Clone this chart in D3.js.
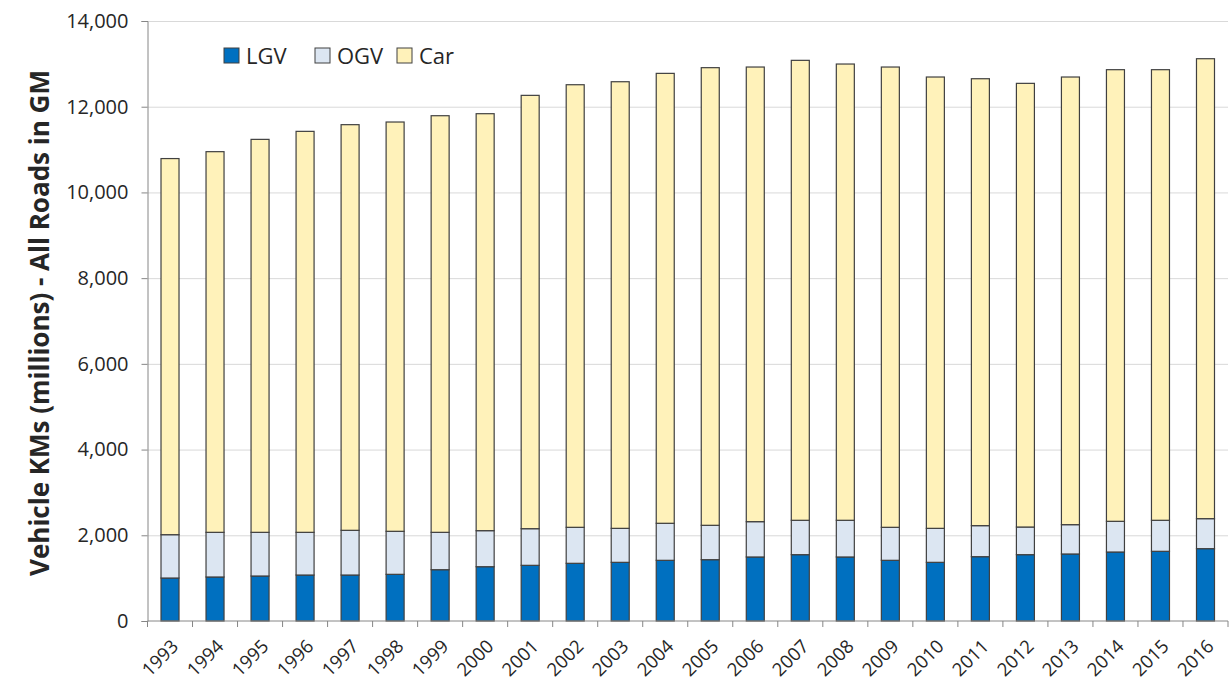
<html>
<script src='https://d3js.org/d3.v7.min.js'></script>
<style>
  body { margin: 0; background: #fff; }
  text { font-family: 'Open Sans', sans-serif; fill: #262626; }
</style>
<body onload='init()'>
<svg width=1230 height=697></svg>
<script>
// vehicle km (millions)
var years = ["1993","1994","1995","1996","1997","1998","1999","2000","2001","2002","2003","2004",
             "2005","2006","2007","2008","2009","2010","2011","2012","2013","2014","2015","2016"];
var lgv = [1003,1027,1050,1073,1073,1089,1197,1267,1299,1346,1369,1416,
           1431,1494,1548,1494,1416,1369,1501,1548,1564,1610,1626,1688];
var ogv = [1011,1042,1019,996,1043,1004,872,841,855,840,793,864,
           802,824,802,856,770,793,724,645,684,716,724,700];
var car = [8776,8882,9169,9356,9465,9550,9721,9729,10111,10327,10421,10498,
           10678,10608,10732,10646,10740,10531,10428,10352,10445,10538,10514,10732];
var seriesNames = ["LGV", "OGV", "Car"];
var seriesColors = ["#0070c0", "#dce6f2", "#fff2ba"];
var yTicks = [0, 2000, 4000, 6000, 8000, 10000, 12000, 14000];

function init() {
  var svg = d3.select('svg');
  var margin = {top: 21, right: 2, bottom: 76, left: 147.5};
  var width = 1230 - margin.left - margin.right,
      height = 697 - margin.top - margin.bottom;

  var rows = years.map(function(y, i) { return {year: y, LGV: lgv[i], OGV: ogv[i], Car: car[i]}; });
  var stack = d3.stack().keys(seriesNames)(rows);

  var x = d3.scaleBand().domain(years).range([0, width]).paddingInner(0.6).paddingOuter(0.3);
  var y = d3.scaleLinear().domain([0, 14000]).range([height, 0]);
  var color = d3.scaleOrdinal().domain(seriesNames).range(seriesColors);

  var g = svg.append('g').attr('transform', 'translate(' + margin.left + ',' + margin.top + ')');

  // gridlines
  g.append('g').selectAll('line').data(yTicks.slice(1)).enter().append('line')
    .attr('x1', 0).attr('x2', width)
    .attr('y1', function(d) { return y(d) + 0.5; }).attr('y2', function(d) { return y(d) + 0.5; })
    .attr('stroke', '#d9d9d9').attr('stroke-width', 1);

  // bars
  g.append('g').selectAll('g').data(stack).enter().append('g')
    .attr('fill', function(d) { return color(d.key); })
    .selectAll('rect').data(function(d) { return d; }).enter().append('rect')
      .attr('x', function(d) { return x(d.data.year); })
      .attr('y', function(d) { return y(d[1]); })
      .attr('width', x.bandwidth())
      .attr('height', function(d) { return y(d[0]) - y(d[1]); })
      .attr('stroke', '#404040').attr('stroke-width', 1.2);

  // y axis
  var yAxis = g.append('g')
    .call(d3.axisLeft(y).tickValues(yTicks).tickFormat(d3.format(',')).tickSize(6).tickPadding(13));
  yAxis.select('.domain').attr('stroke', '#868686');
  yAxis.selectAll('.tick line').attr('stroke', '#868686');
  yAxis.selectAll('text').attr('font-size', 20).attr('font-family', "'Open Sans', sans-serif").attr('fill', '#262626');

  // x axis: ticks between categories
  var xAxis = g.append('g').attr('transform', 'translate(0,' + height + ')');
  xAxis.append('line').attr('x1', 0).attr('x2', width).attr('stroke', '#868686');
  xAxis.selectAll('.sep').data(d3.range(years.length + 1)).enter().append('line')
    .attr('x1', function(i) { return i * width / years.length; })
    .attr('x2', function(i) { return i * width / years.length; })
    .attr('y1', 0).attr('y2', 6).attr('stroke', '#868686');
  xAxis.selectAll('.lbl').data(years).enter().append('text')
    .attr('transform', function(d) { return 'translate(' + (x(d) + x.bandwidth() / 2 + 5) + ',22) rotate(-45)'; })
    .attr('text-anchor', 'end').attr('dy', '0.35em')
    .attr('font-size', 18.5)
    .text(function(d) { return d; });

  // y title
  svg.append('text')
    .attr('transform', 'translate(40,' + (margin.top + height / 2 + 2) + ') rotate(-90)')
    .attr('text-anchor', 'middle').attr('dy', '0.35em')
    .attr('font-size', 26).attr('font-weight', 'bold')
    .text('Vehicle KMs (millions) - All Roads in GM');

  // legend
  var legX = [224, 315, 397];
  var leg = svg.append('g').selectAll('g').data(seriesNames).enter().append('g')
    .attr('transform', function(d, i) { return 'translate(' + legX[i] + ',48)'; });
  leg.append('rect').attr('width', 15).attr('height', 15)
    .attr('fill', function(d) { return color(d); }).attr('stroke', '#404040').attr('stroke-width', 1);
  leg.append('text').attr('x', 22).attr('y', 8).attr('dy', '0.35em')
    .attr('font-size', 22).text(function(d) { return d; });
}
</script>
</body>
</html>
